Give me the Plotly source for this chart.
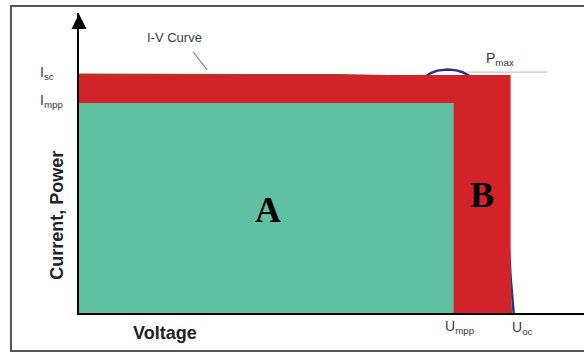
import plotly.graph_objects as go

# Operating point of the cell (normalised units)
I_sc = 1.0
I_mpp = 0.882
U_mpp = 0.868
U_oc = 1.0
P_max = 1.023

# I-V characteristic
iv_voltage = [0.0, 0.3, 0.6, 0.8, 0.88, 0.93, 0.96, 0.98, 0.995, 1.0]
iv_current = [1.0, 0.999, 0.997, 0.99, 0.96, 0.88, 0.75, 0.55, 0.25, 0.0]

# P-V characteristic
pv_voltage = [0.0, 0.2, 0.4, 0.6, 0.7, 0.76, 0.78, 0.80, 0.815, 0.83, 0.854, 0.875,
              0.89, 0.905, 0.92, 0.95, 0.98, 0.995, 1.0, 1.007]
pv_power = [0.0, 0.235, 0.47, 0.70, 0.82, 0.9, 0.96, 0.99, 1.008, 1.018, 1.023, 1.019,
            1.01, 0.995, 0.97, 0.85, 0.6, 0.3, 0.15, 0.0]

X_MAX = 1.17
Y_MAX = 1.26

GREEN = "#5fc1a1"
RED = "#d3232a"
FONT = "Liberation Sans"

fig = go.Figure()

# curves sit underneath the two area rectangles
fig.add_trace(go.Scatter(x=pv_voltage, y=pv_power, mode="lines",
                         line=dict(color="#2b2f8c", width=2.5),
                         hoverinfo="skip"))
fig.add_trace(go.Scatter(x=iv_voltage, y=iv_current, mode="lines",
                         line=dict(color="#8a4e2e", width=3),
                         hoverinfo="skip"))

# B: Isc x Uoc rectangle
fig.add_trace(go.Scatter(x=[0, U_oc, U_oc, 0, 0], y=[0, 0, I_sc, I_sc, 0],
                         mode="lines", fill="toself", fillcolor=RED,
                         line=dict(width=0, color=RED), hoverinfo="skip"))
# A: Impp x Umpp rectangle
fig.add_trace(go.Scatter(x=[0, U_mpp, U_mpp, 0, 0], y=[0, 0, I_mpp, I_mpp, 0],
                         mode="lines", fill="toself", fillcolor=GREEN,
                         line=dict(width=0, color=GREEN), hoverinfo="skip"))

label_font = dict(family=FONT, size=14, color="#3a3a3a")
title_font = dict(family=FONT, size=18, color="#222")


def note(x, y, text, xref="x", yref="y", **kw):
    d = dict(x=x, y=y, xref=xref, yref=yref, text=text, showarrow=False,
             xanchor="center", yanchor="middle")
    d.update(kw)
    return d


annotations = [
    # axis arrow head
    dict(x=0, y=Y_MAX - 0.004, ax=0, ay=Y_MAX - 0.06, xref="x", yref="y",
         axref="x", ayref="y", text="", showarrow=True, arrowhead=2,
         arrowsize=1.5, arrowwidth=2, arrowcolor="black"),
    # area letters
    note(0.4385, 0.433, "<b>A</b>", font=dict(family="Liberation Serif", size=36, color="black")),
    note(0.933, 0.496, "<b>B</b>", font=dict(family="Liberation Serif", size=36, color="black")),
    # current levels (left of the axis, so placed on paper)
    note(-0.063, I_sc, "I<sub>sc</sub>", xref="paper", yshift=2, font=label_font),
    note(-0.053, I_mpp, "I<sub>mpp</sub>", xref="paper", yshift=2, font=label_font),
    # voltage levels
    note(U_mpp, -0.045, "U<sub>mpp</sub>", yref="paper", xshift=6, font=label_font),
    note(U_oc, -0.05, "U<sub>oc</sub>", yref="paper", xshift=12, font=label_font),
    # curve labels
    note(0.222, 1.158, "I-V Curve", font=dict(family=FONT, size=13, color="#3a3a3a")),
    note(0.975, 1.065, "P<sub>max</sub>", font=label_font),
    # axis titles
    note(0.2, -0.067, "<b>Voltage</b>", yref="paper", font=title_font),
    note(-0.044, 0.327, "<b>Current, Power</b>", xref="paper", yref="paper", textangle=-90,
         font=title_font),
]

shapes = [
    # leader lines for the curve labels
    dict(type="line", xref="x", yref="y", x0=0.2645, y0=1.097, x1=0.297, y1=1.021,
         line=dict(color="#888", width=1.2)),
    dict(type="line", xref="x", yref="y", x0=0.9, y0=1.012, x1=1.085, y1=1.012,
         line=dict(color="#c8c8c8", width=1.2)),
    # outer frame
    dict(type="rect", xref="paper", yref="paper", x0=-0.1347, y0=-0.1267,
         x1=1.06, y1=1.0233, line=dict(color="#555", width=2), layer="above"),
]

axis_style = dict(showgrid=False, zeroline=False, showticklabels=False, ticks="",
                  showline=True, linecolor="black", linewidth=2, fixedrange=True,
                  layer="above traces")

fig.update_layout(
    width=584, height=356,
    margin=dict(l=79, r=0, t=13, b=43),
    paper_bgcolor="white", plot_bgcolor="white",
    showlegend=False,
    annotations=annotations,
    shapes=shapes,
    xaxis=dict(range=[0, X_MAX], **axis_style),
    yaxis=dict(range=[0, Y_MAX], **axis_style),
)

fig.write_html("out.html", config={"displayModeBar": False})
